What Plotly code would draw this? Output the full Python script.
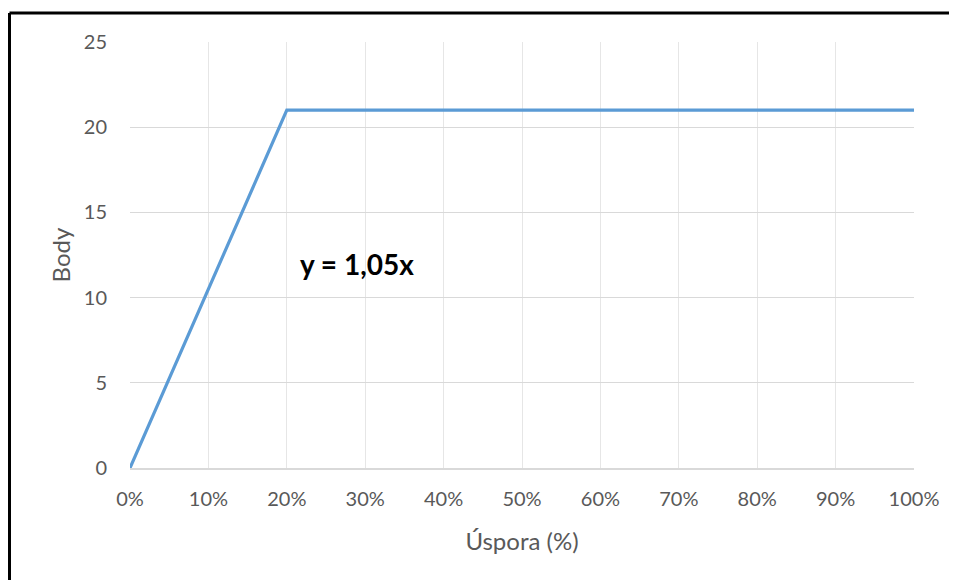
import plotly.graph_objects as go

uspora = [0.0, 0.2, 1.0]
body = [0, 21, 21]
x_ticks = [i / 10 for i in range(11)]
x_tick_labels = [f"{i*10}%" for i in range(11)]
y_ticks = [0, 5, 10, 15, 20, 25]

fig = go.Figure()
fig.add_trace(go.Scatter(x=uspora, y=body, mode="lines",
                         line=dict(color="#5b9bd5", width=3.2), showlegend=False))

fig.add_annotation(x=0.29, y=12.0, text="<b>y = 1,05x</b>", showarrow=False,
                   font=dict(family="Lato, Open Sans, sans-serif", size=28, color="#000000"))

OFF = 8  # body margin offset of the page
W, H = 957 - OFF, 580 - OFF
L, R, T, B = 130 - OFF, 43, 42 - OFF, 112
pw, ph = W - L - R, H - T - B
def px(x): return (x - OFF - L) / pw
def py(y): return (H - B - (y - OFF)) / ph

fig.add_shape(type="line", xref="paper", yref="paper",
              x0=px(9.5), x1=px(960), y0=py(13), y1=py(13),
              line=dict(color="black", width=3))
fig.add_shape(type="line", xref="paper", yref="paper",
              x0=px(9.5), x1=px(9.5), y0=py(13), y1=py(585),
              line=dict(color="black", width=3))

font = dict(family="Lato, Open Sans, sans-serif", size=20, color="#595959")
fig.update_layout(
    width=W, height=H,
    margin=dict(l=L, r=R, t=T, b=B),
    paper_bgcolor="white", plot_bgcolor="white",
    font=font,
    xaxis=dict(range=[0, 1], tickvals=x_ticks, ticktext=x_tick_labels,
               showgrid=True, gridcolor="#e6e6e6", gridwidth=1,
               showline=True, linecolor="#d9d9d9", linewidth=1.5,
               zeroline=False, ticks="", ticklabelstandoff=12,
               title=dict(text="Úspora (%)", font=dict(size=24, color="#595959"), standoff=24)),
    yaxis=dict(range=[0, 25], tickvals=y_ticks,
               showgrid=True, gridcolor="#d9d9d9", gridwidth=1,
               zeroline=False, ticks="", ticklabelstandoff=22,
               title=dict(text="Body", font=dict(size=24, color="#595959"), standoff=6)),
)

fig.write_html("out.html")
